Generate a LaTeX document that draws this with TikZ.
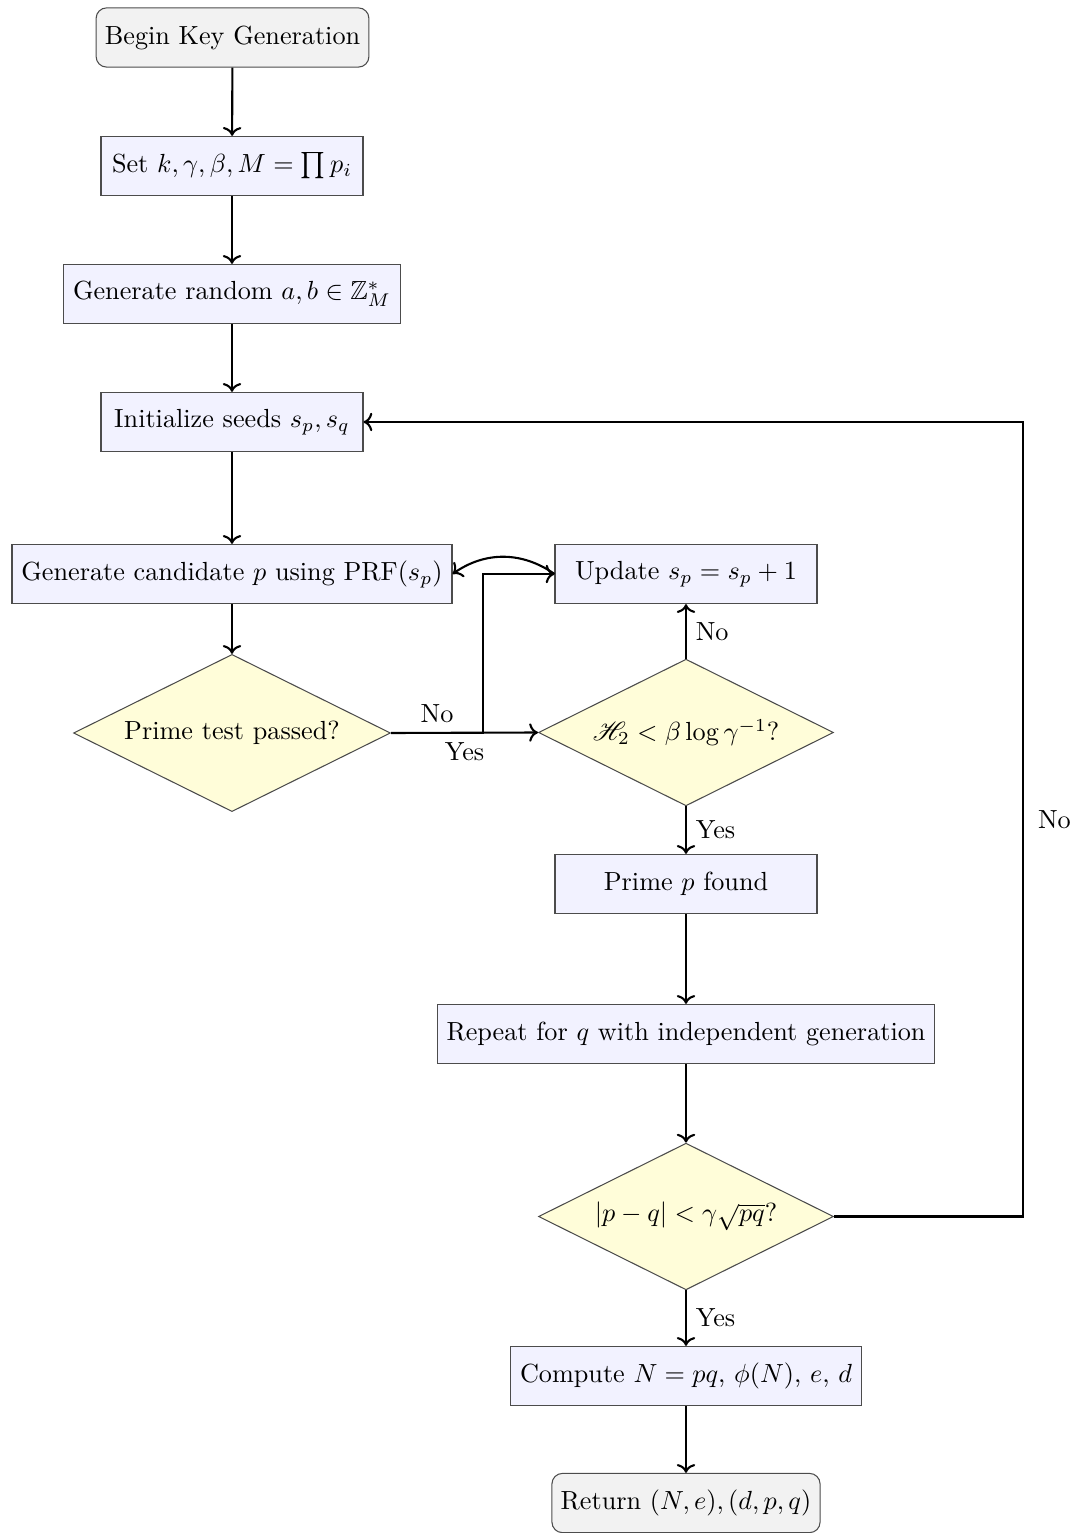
\documentclass[tikz,border=0pt]{standalone}
\usepackage{amsmath,amssymb,mathrsfs}
\usetikzlibrary{shapes.geometric,arrows.meta}
\begin{document}
\begin{tikzpicture}[x=0.38168pt,y=-0.38168pt,
  procbox/.style={rectangle,draw=black!70,fill=blue!5,minimum width=100pt,minimum height=22.6pt,inner sep=3.6pt},
  termbox/.style={rectangle,rounded corners=4pt,draw=black!70,fill=gray!10,minimum width=100pt,minimum height=22.6pt,inner sep=3.33pt},
  decbox/.style={diamond,shape aspect=2,draw=black!70,fill=yellow!15,inner sep=0pt},
  flow/.style={->,thick},
  lbl/.style={font=\normalsize}]
\useasboundingbox (0,0) rectangle (1076,1533);
\node[termbox] (start) at (232.5,37.5) {Begin Key Generation};
\node[procbox] (set) at (232,166) {Set $k,\gamma,\beta,M=\prod p_i$};
\node[procbox] (gen) at (232,294) {Generate random $a,b\in\mathbb{Z}_M^*$};
\node[procbox] (init) at (232,422) {Initialize seeds $s_p,s_q$};
\node[procbox] (cand) at (232,574) {Generate candidate $p$ using $\mathrm{PRF}(s_p)$};
\node[procbox] (upd) at (686,574) {Update $s_p=s_p+1$};
\node[decbox,minimum width=121pt,minimum height=60pt] (ptest) at (232,733) {Prime test passed?};
\node[decbox,minimum width=112.6pt,minimum height=56pt] (h2) at (686,732.5) {$\mathscr{H}_2<\beta\log\gamma^{-1}$?};
\node[procbox] (found) at (686,884) {Prime $p$ found};
\node[procbox] (rep) at (686,1034) {Repeat for $q$ with independent generation};
\node[decbox,minimum width=112.6pt,minimum height=56pt] (diff) at (686,1216.5) {$|p-q|<\gamma\sqrt{pq}$?};
\node[procbox] (comp) at (686,1376) {Compute $N=pq$, $\phi(N)$, $e$, $d$};
\node[termbox] (ret) at (686,1503) {Return $(N,e),(d,p,q)$};
\coordinate (jn) at (483,733);
\coordinate (rt) at (1023,1216.5);
\draw[flow] (start) -- (set);
\draw[flow] (set) -- (gen);
\draw[flow] (gen) -- (init);
\draw[flow] (init) -- (cand);
\draw[flow] (cand) -- (ptest);
\draw[flow] (ptest.east) -- node[above,lbl] {No} (jn) |- (upd.west);
\draw[flow] (ptest.east) -- node[below,lbl] {Yes} (h2.west);
\draw[flow] (upd.west) to[bend right=35] (cand.east);
\draw[flow] (h2) -- node[right,lbl] {No} (upd);
\draw[flow] (h2) -- node[right,lbl] {Yes} (found);
\draw[flow] (found) -- (rep);
\draw[flow] (rep) -- (diff);
\draw[flow] (diff.east) -- (rt) -- node[right,lbl,pos=0.5,xshift=2pt] {No} (rt |- init.east) -- (init.east);
\draw[flow] (diff) -- node[right,lbl] {Yes} (comp);
\draw[flow] (comp) -- (ret);
\end{tikzpicture}
\end{document}
